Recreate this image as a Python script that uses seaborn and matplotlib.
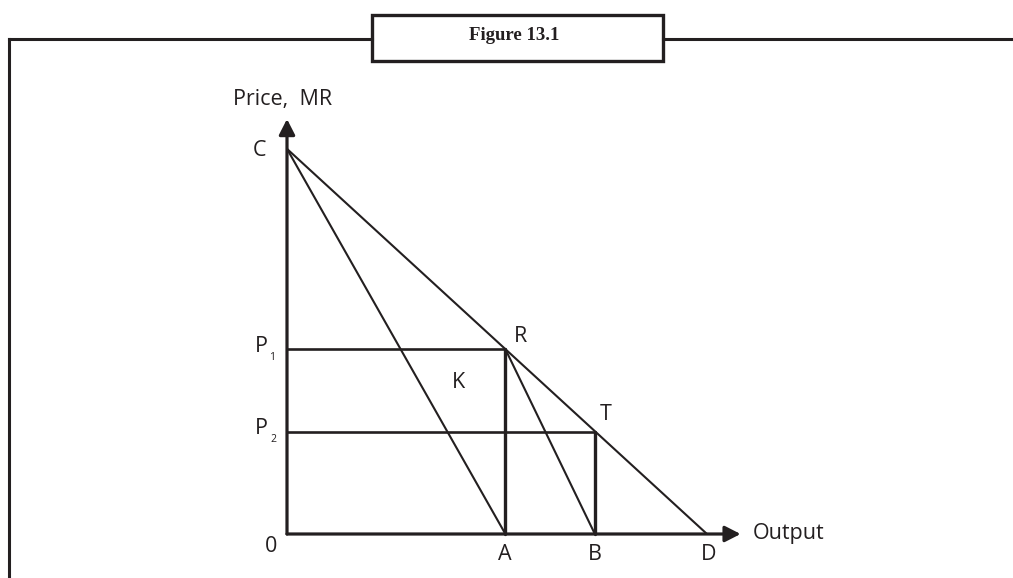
import matplotlib
matplotlib.use("Agg")
import matplotlib.pyplot as plt
from matplotlib.lines import Line2D
from matplotlib.patches import Rectangle
import pandas as pd
import seaborn as sns

# Quantities on the output axis
q_A = 52.0
q_B = 73.3
q_D = 100.0
# Prices on the vertical axis
p_C = 91.7
p_1 = 44.0
p_2 = 24.3

axis_x_end = 108.0
axis_y_end = 98.8

point_labels = ["C", "R", "T", "K", "A", "B", "D", "0"]
title_text = "Figure 13.1"

INK = "#231f20"

sns.set_theme(style="white")
plt.rcParams["font.family"] = ["Open Sans", "DejaVu Sans"]

fig = plt.figure(figsize=(10.13, 5.78), dpi=100)
ax = fig.add_axes([0, 0, 1, 1])
ppu = 4.2  # pixels per data unit
ax.set_xlim(-287 / ppu, (1013 - 287) / ppu)
ax.set_ylim(-44 / ppu, (578 - 44) / ppu)
ax.axis("off")

# Line segments of the diagram
segments = pd.DataFrame({
    "seg": ["CD", "CD", "CA", "CA", "RB", "RB",
            "P1R", "P1R", "P2T", "P2T", "AR", "AR", "BT", "BT"],
    "x": [0, q_D, 0, q_A, q_A, q_B,
          0, q_A, 0, q_B, q_A, q_A, q_B, q_B],
    "y": [p_C, 0, p_C, 0, p_1, 0,
          p_1, p_1, p_2, p_2, 0, p_1, 0, p_2],
    "weight": ["thin"] * 6 + ["mid"] * 4 + ["thick"] * 4,
})
widths = {"thin": 1.5, "mid": 1.9, "thick": 2.4}
for w, grp in segments.groupby("weight"):
    sns.lineplot(data=grp, x="x", y="y", units="seg", estimator=None,
                 sort=False, color=INK, linewidth=widths[w], ax=ax,
                 legend=False)

# Axes with arrowheads
for end in [(axis_x_end, 0), (0, axis_y_end)]:
    ax.annotate("", xy=end, xytext=(0, 0),
                arrowprops=dict(arrowstyle="-|>,head_length=0.47,head_width=0.24",
                                mutation_scale=20, color=INK, lw=2.3,
                                shrinkA=0, shrinkB=0))

def px(xp, yp):
    return (xp - 287) / ppu, (534 - yp) / ppu

fs = 15.5
txt = dict(color=INK, fontsize=fs, ha="center", va="center")
label_pos = {
    "C": (260, 150), "R": (520, 336), "T": (606, 414), "K": (458, 383),
    "A": (505, 555), "B": (595, 555), "D": (709, 555), "0": (271, 547),
}
for lab in point_labels:
    ax.text(*px(*label_pos[lab]), lab, **txt)

ax.text(*px(283, 99), "Price,  MR", **txt)
ax.text(*px(753, 534), "Output", color=INK, fontsize=fs, ha="left", va="center")

# Price levels with small subscripts
ax.text(*px(261, 346), "P", **txt)
ax.text(*px(272, 357), "1", color=INK, fontsize=7.5, ha="center", va="center")
ax.text(*px(261, 429), "P", **txt)
ax.text(*px(273, 440), "2", color=INK, fontsize=7.5, ha="center", va="center")

# Outer frame and caption box
H = 578.0
W = 1013.0
def fy(yp):
    return 1 - yp / H
frame_kw = dict(color=INK, linewidth=2.2, transform=fig.transFigure,
                solid_capstyle="projecting")
fig.add_artist(Line2D([9 / W, 9 / W], [fy(39), 0], **frame_kw))
fig.add_artist(Line2D([9 / W, 372 / W], [fy(39), fy(39)], **frame_kw))
fig.add_artist(Line2D([663 / W, 1], [fy(39), fy(39)], **frame_kw))
fig.add_artist(Rectangle((372 / W, fy(61)), (663 - 372) / W, (61 - 15) / H,
                         transform=fig.transFigure, facecolor="white",
                         edgecolor=INK, linewidth=2.4))
fig.text(514 / W, fy(39.5), title_text, color=INK, fontsize=13.5,
         fontweight="bold", family=["Liberation Serif", "DejaVu Serif"],
         ha="center", va="baseline")

fig.savefig("out.png", dpi=100, facecolor="white")
